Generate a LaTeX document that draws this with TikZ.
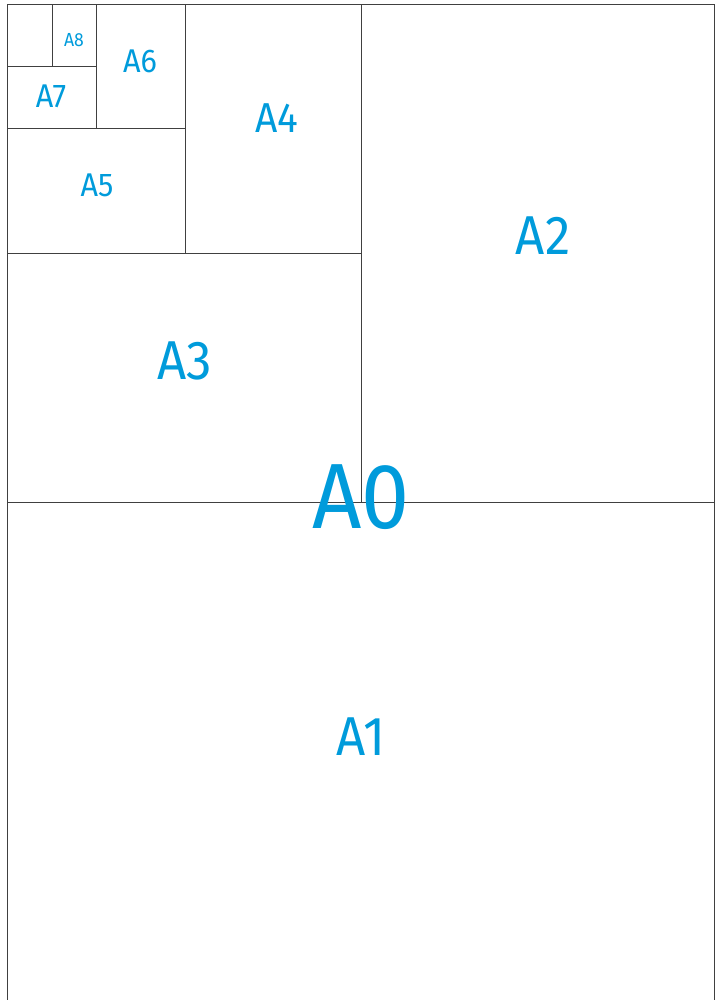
\documentclass[tikz,border=0pt]{standalone}
\usepackage{fontspec}
\setmainfont[FakeStretch=0.93]{Fira Sans}
\usepackage{tikz}
\usetikzlibrary{positioning}
\definecolor{sizeblue}{RGB}{0,155,219}
\definecolor{edgegray}{RGB}{64,64,64}
\tikzset{
  sheetline/.style={draw=edgegray, line width=0.8pt},
  sizelabel/.style={text=sizeblue, inner sep=0pt, anchor=center},
  bigsize/.style={sizelabel, font=\fontsize{93}{93}\selectfont},
  midsize/.style={sizelabel, font=\fontsize{55}{55}\selectfont},
  quartersize/.style={sizelabel, font=\fontsize{42}{42}\selectfont},
  smallsize/.style={sizelabel, font=\fontsize{33}{33}\selectfont},
  tinysize/.style={sizelabel, font=\fontsize{19}{19}\selectfont}
}
\begin{document}
\begin{tikzpicture}[x=1bp, y=-1bp]
  \useasboundingbox (0,0) rectangle (715,1000);
  % Sheet outline and halvings
  \draw[sheetline] (7.5,1002) -- (7.5,4) -- (714,4) -- (714,1002);
  \draw[sheetline] (7.5,502) -- (714,502);
  \draw[sheetline] (361,4) -- (361,502);
  \draw[sheetline] (7.5,253) -- (361,253);
  \draw[sheetline] (185,4) -- (185,253);
  \draw[sheetline] (7.5,128) -- (185,128);
  \draw[sheetline] (96,4) -- (96,128);
  \draw[sheetline] (7.5,66) -- (96,66);
  \draw[sheetline] (52,4) -- (52,66);

  % Size labels
  \node[bigsize]     (a0) at (361,497) {A0};
  \node[midsize]     (a1) at (361,737) {A1};
  \node[midsize]     (a2) at (543,236) {A2};
  \node[midsize]     (a3) at (185,361) {A3};
  \node[quartersize] (a4) at (277,118) {A4};
  \node[smallsize]   (a5) at (97,185)  {A5};
  \node[smallsize]   (a6) at (140,61)  {A6};
  \node[smallsize]   (a7) at (51,96)   {A7};
  \node[tinysize]    (a8) at (74,40)   {A8};
\end{tikzpicture}
\end{document}
